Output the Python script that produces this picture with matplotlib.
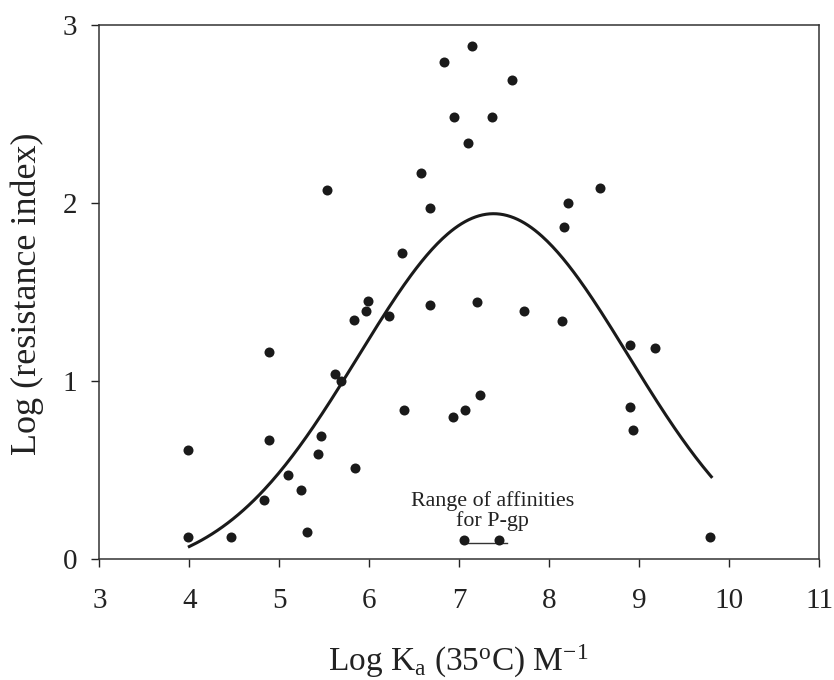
import numpy as np
import matplotlib
matplotlib.use("Agg")
import matplotlib.pyplot as plt

plt.rcParams['font.family'] = ['Liberation Serif', 'DejaVu Serif']
plt.rcParams['mathtext.fontset'] = 'custom'
plt.rcParams['mathtext.rm'] = 'Liberation Serif'
plt.rcParams['mathtext.it'] = 'Liberation Serif:italic'

# Scatter data (Log Ka, Log resistance index)
log_ka = [7.145, 6.83, 6.944, 7.093, 6.574, 5.53, 6.674, 6.367, 7.586, 7.367,
          8.567, 8.208, 8.16, 5.989, 5.96, 5.833, 6.219, 6.678, 7.197, 4.889,
          5.619, 5.689, 6.386, 6.934, 7.067, 7.233, 3.986, 4.889, 5.463, 5.433,
          5.844, 5.1, 5.241, 4.827, 5.308, 3.986, 4.463, 7.719, 8.145, 8.893,
          9.171, 8.897, 8.93, 9.79]
log_ri = [2.884, 2.79, 2.485, 2.339, 2.169, 2.073, 1.974, 1.721, 2.691, 2.485,
          2.086, 2.0, 1.865, 1.451, 1.391, 1.344, 1.367, 1.429, 1.444, 1.163,
          1.037, 1.002, 0.839, 0.796, 0.839, 0.921, 0.61, 0.67, 0.689, 0.588,
          0.513, 0.470, 0.389, 0.331, 0.153, 0.122, 0.122, 1.391, 1.339, 1.200,
          1.183, 0.854, 0.723, 0.122]

# P-gp affinity range endpoints
pgp_x = [7.05, 7.438]
pgp_y = [0.108, 0.108]
pgp_bar_x = [7.05, 7.53]
pgp_bar_y = [0.09, 0.09]

# Gaussian fit parameters (offset, amplitude, centre, width) and fit range
fit_y0 = -0.09
fit_amp = 2.03
fit_x0 = 7.38
fit_sigma = 1.5
fit_range = (4.0, 9.8)

x_ticks = [3, 4, 5, 6, 7, 8, 9, 10, 11]
y_ticks = [0, 1, 2, 3]

ink = '#1a1a1a'

fig = plt.figure(figsize=(8.34, 6.8), dpi=100)
ax = fig.add_axes([0.1191, 0.1779, 0.8633, 0.7853])

xc = np.linspace(fit_range[0], fit_range[1], 300)
yc = fit_y0 + fit_amp * np.exp(-(xc - fit_x0) ** 2 / (2 * fit_sigma ** 2))
ax.plot(xc, yc, color=ink, lw=2.2, zorder=2)

ax.scatter(log_ka, log_ri, s=52, color=ink, zorder=3, linewidths=0)
ax.plot(pgp_bar_x, pgp_bar_y, color='#333333', lw=1.0, zorder=2)
ax.scatter(pgp_x, pgp_y, s=52, color=ink, zorder=3, linewidths=0)
ax.text(7.37, 0.27, "Range of affinities\nfor P-gp", ha='center', va='center',
        fontsize=15.8, linespacing=0.95, color='#222222')

ax.set_xlim(3, 11)
ax.set_ylim(0, 3)
ax.set_xticks(x_ticks)
ax.set_yticks(y_ticks)
ax.tick_params(direction='out', length=6, width=1, labelsize=21, pad=10,
               colors='#222222')
ax.tick_params(axis='x', pad=15)
for sp in ax.spines.values():
    sp.set_linewidth(1.1)
    sp.set_color('#333333')

fig.text(27 / 834, 1 - 294 / 680, 'Log (resistance index)', rotation=90,
         ha='center', va='center', fontsize=26, color='#222222')
fig.text(458 / 834, 1 - 671 / 680,
         r'Log K$_{\mathrm{a}}$ (35$^{\mathrm{o}}$C) M$^{\mathrm{-1}}$',
         ha='center', va='baseline', fontsize=24, color='#222222')

fig.savefig('out.png', dpi=100)
